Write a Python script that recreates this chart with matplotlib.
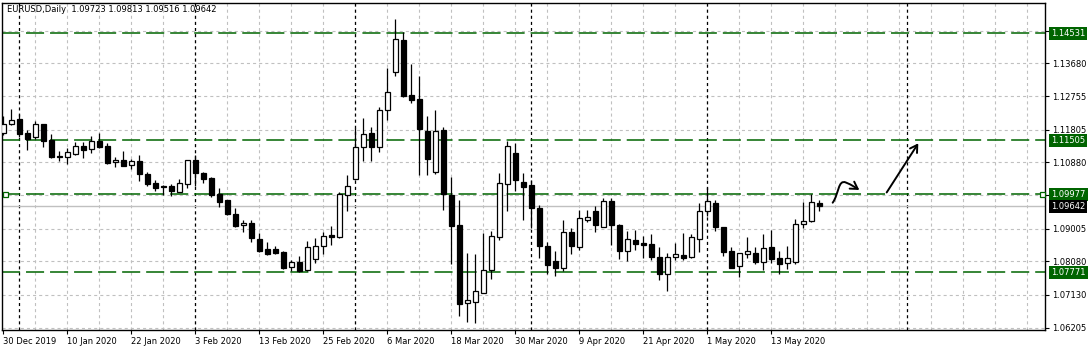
import matplotlib
matplotlib.use('Agg')
import matplotlib.pyplot as plt
from matplotlib.path import Path
from matplotlib.patches import FancyArrowPatch
from matplotlib.transforms import blended_transform_factory

plt.rcParams['lines.scale_dashes'] = False
plt.rcParams['font.family'] = ['DejaVu Sans']

# EURUSD daily candles, 30 Dec 2019 .. 21 May 2020
opens = [1.1170, 1.1196, 1.1211, 1.1172, 1.1161, 1.1196, 1.1150, 1.1106, 1.1103, 1.1113,
         1.1135, 1.1125, 1.1149, 1.1135, 1.1088, 1.1094, 1.1080, 1.1091, 1.1054, 1.1030,
         1.1022, 1.1021, 1.1005, 1.1028, 1.1094, 1.1058, 1.1044, 1.0998, 1.0982, 1.0942,
         1.0910, 1.0917, 1.0872, 1.0843, 1.0843, 1.0835, 1.0791, 1.0805, 1.0783, 1.0814,
         1.0851, 1.0882, 1.0878, 1.0997, 1.1040, 1.1131, 1.1170, 1.1131, 1.1235, 1.1343,
         1.1434, 1.1278, 1.1266, 1.1176, 1.1062, 1.1180, 1.0996, 1.0911, 1.0689, 1.0694,
         1.0719, 1.0785, 1.0878, 1.1026, 1.1115, 1.1033, 1.1024, 1.0959, 1.0852, 1.0809,
         1.0790, 1.0891, 1.0849, 1.0926, 1.0951, 1.0906, 1.0979, 1.0910, 1.0836, 1.0869,
         1.0859, 1.0856, 1.0820, 1.0773, 1.0821, 1.0825, 1.0820, 1.0871, 1.0951, 1.0972,
         1.0904, 1.0836, 1.0794, 1.0830, 1.0832, 1.0805, 1.0848, 1.0818, 1.0803, 1.0807,
         1.0913, 1.0921, 1.09723]
highs = [1.1220, 1.1239, 1.1224, 1.1181, 1.1204, 1.1197, 1.1168, 1.1120, 1.1128, 1.1146,
         1.1146, 1.1163, 1.1172, 1.1144, 1.1103, 1.1121, 1.1097, 1.1109, 1.1061, 1.1038,
         1.1024, 1.1027, 1.1041, 1.1095, 1.1108, 1.1062, 1.1046, 1.1016, 1.0983, 1.0958,
         1.0924, 1.0924, 1.0888, 1.0863, 1.0852, 1.0838, 1.0812, 1.0823, 1.0866, 1.0874,
         1.0891, 1.0907, 1.1005, 1.1052, 1.1185, 1.1214, 1.1188, 1.1244, 1.1354, 1.1493,
         1.1456, 1.1366, 1.1332, 1.1219, 1.1236, 1.1188, 1.1047, 1.0982, 1.0832, 1.0829,
         1.0889, 1.0895, 1.1057, 1.1149, 1.1142, 1.1057, 1.1038, 1.0967, 1.0862, 1.0837,
         1.0925, 1.0902, 1.0953, 1.0953, 1.0964, 1.0987, 1.0986, 1.0914, 1.0895, 1.0897,
         1.0879, 1.0885, 1.0849, 1.0832, 1.0859, 1.0888, 1.0885, 1.0972, 1.1018, 1.0981,
         1.0906, 1.0848, 1.0833, 1.0877, 1.0850, 1.0885, 1.0897, 1.0837, 1.0852, 1.0928,
         1.0976, 1.0998, 1.09813]
lows = [1.1166, 1.1194, 1.1161, 1.1123, 1.1155, 1.1132, 1.1101, 1.1092, 1.1084, 1.1109,
        1.1101, 1.1115, 1.1128, 1.1084, 1.1076, 1.1078, 1.1069, 1.1036, 1.1020, 1.1008,
        1.0997, 1.0992, 1.1004, 1.1016, 1.1021, 1.1030, 1.0991, 1.0963, 1.0940, 1.0906,
        1.0891, 1.0863, 1.0834, 1.0826, 1.0829, 1.0786, 1.0782, 1.0777, 1.0781, 1.0803,
        1.0830, 1.0855, 1.0875, 1.0950, 1.1038, 1.1092, 1.1092, 1.1118, 1.1209, 1.1333,
        1.1274, 1.1256, 1.1052, 1.1053, 1.1055, 1.0953, 1.0801, 1.0653, 1.0637, 1.0635,
        1.0718, 1.0759, 1.0868, 1.0951, 1.1007, 1.0925, 1.0902, 1.0818, 1.0772, 1.0767,
        1.0781, 1.0829, 1.0840, 1.0918, 1.0891, 1.0904, 1.0855, 1.0816, 1.0809, 1.0840,
        1.0817, 1.0811, 1.0755, 1.0725, 1.0811, 1.0812, 1.0818, 1.0834, 1.0937, 1.0895,
        1.0823, 1.0789, 1.0765, 1.0817, 1.0801, 1.0784, 1.0803, 1.0773, 1.0787, 1.0800,
        1.0902, 1.0918, 1.09516]
closes = [1.1196, 1.1207, 1.1169, 1.1155, 1.1196, 1.1149, 1.1103, 1.1103, 1.1117, 1.1134,
          1.1124, 1.1149, 1.1132, 1.1086, 1.1094, 1.1079, 1.1091, 1.1054, 1.1026, 1.1016,
          1.1018, 1.1008, 1.1029, 1.1094, 1.1059, 1.1041, 1.0997, 1.0977, 1.0942, 1.0908,
          1.0917, 1.0873, 1.0838, 1.0829, 1.0832, 1.0790, 1.0805, 1.0782, 1.0849, 1.0852,
          1.0879, 1.0878, 1.0998, 1.1022, 1.1132, 1.1168, 1.1131, 1.1235, 1.1286, 1.1436,
          1.1276, 1.1265, 1.1183, 1.1098, 1.1176, 1.0998, 1.0909, 1.0688, 1.0698, 1.0723,
          1.0785, 1.0879, 1.1029, 1.1135, 1.1039, 1.1019, 1.0960, 1.0852, 1.0798, 1.0790,
          1.0891, 1.0852, 1.0930, 1.0934, 1.0911, 1.0979, 1.0910, 1.0838, 1.0871, 1.0858,
          1.0855, 1.0821, 1.0773, 1.0820, 1.0828, 1.0818, 1.0876, 1.0950, 1.0978, 1.0906,
          1.0834, 1.0790, 1.0831, 1.0837, 1.0805, 1.0846, 1.0815, 1.0801, 1.0818, 1.0913,
          1.0921, 1.0976, 1.09642]

date_ticks = [0, 8, 16, 24, 32, 40, 48, 56, 64, 72, 80, 88, 96]
date_labels = ['30 Dec 2019', '10 Jan 2020', '22 Jan 2020', '3 Feb 2020', '13 Feb 2020',
               '25 Feb 2020', '6 Mar 2020', '18 Mar 2020', '30 Mar 2020', '9 Apr 2020',
               '21 Apr 2020', '1 May 2020', '13 May 2020']
separators = [2, 24, 44, 66, 88, 113]   # month separators (bar index)

price_ticks = [1.06205, 1.07130, 1.08080, 1.09005, 1.09955, 1.10880, 1.11805,
               1.12755, 1.13680, 1.14605]
levels = [1.14531, 1.11505, 1.09977, 1.07771]
bid = closes[-1]

GREEN = '#006400'
GRID = '#c0c0c0'

fig = plt.figure(figsize=(10.91, 3.51), dpi=100)
ax = fig.add_axes([2/1091, 21/351, 1043/1091, 327/351])
xmin, xmax = -0.1875, 130.19
ax.set_xlim(xmin, xmax)
ax.set_ylim(1.06139, 1.15389)

# grid
for g in range(4, 131, 4):
    ax.axvline(g, color=GRID, lw=0.8, ls=(0, (2.2, 2.2)), zorder=0.5)
for p in price_ticks:
    ax.axhline(p, color=GRID, lw=0.8, ls=(0, (2.2, 2.2)), zorder=0.5)
for s in separators:
    ax.axvline(s, color='black', lw=0.9, ls=(0, (2.2, 2.2)), zorder=1)

# bid line + levels
ax.axhline(bid, color=GRID, lw=1.0, zorder=1)
for lv in levels:
    ax.axhline(lv, color=GREEN, lw=1.1, ls=(0, (13, 4.3)), zorder=2)
ax.plot([xmin + 0.4, xmax - 0.4], [levels[2], levels[2]], 's', ms=3.6,
        mfc='white', mec=GREEN, mew=0.9, clip_on=False, zorder=6)

# candles
x = list(range(len(opens)))
bottoms = [min(o, c) for o, c in zip(opens, closes)]
heights = [max(abs(c - o), 0.00002) for o, c in zip(opens, closes)]
colors = ['white' if c >= o else 'black' for o, c in zip(opens, closes)]
ax.vlines(x, lows, highs, color='black', lw=0.9, zorder=3)
ax.bar(x, heights, bottom=bottoms, width=0.55, color=colors,
       edgecolor='black', linewidth=0.9, zorder=4)

# hand drawn arrows
verts = [(103.65, 1.0974), (104.44, 1.0999), (104.31, 1.1041), (105.31, 1.1031),
         (106.06, 1.1024), (106.44, 1.1018), (106.98, 1.1010)]
codes = [Path.MOVETO] + [Path.CURVE4] * 6
curve = FancyArrowPatch(path=Path(verts, codes), arrowstyle='->,head_length=0.5,head_width=0.3',
                        mutation_scale=10, lw=1.4, color='black', zorder=7)
ax.add_patch(curve)
ax.annotate('', xy=(114.35, 1.1142), xytext=(110.4, 1.1003),
            arrowprops=dict(arrowstyle='->,head_length=0.5,head_width=0.3', lw=1.4,
                            color='black', shrinkA=0, shrinkB=0, mutation_scale=10))

# axes
for sp in ax.spines.values():
    sp.set_color('black')
    sp.set_linewidth(1.0)
ax.yaxis.tick_right()
ax.set_yticks(price_ticks)
ax.set_yticklabels(['' if p in (1.09955, 1.14605) else '%.5f' % p for p in price_ticks])
ax.set_xticks(date_ticks)
ax.set_xticklabels(date_labels)
for lbl in ax.get_xticklabels():
    lbl.set_horizontalalignment('left')
ax.tick_params(axis='both', labelsize=6, length=3, width=0.8, pad=2, colors='black')

trans = blended_transform_factory(ax.transAxes, ax.transData)
for lv in levels:
    ax.text(1.0058, lv, '%.5f' % lv, transform=trans, va='center', ha='left', fontsize=6,
            color='white', bbox=dict(boxstyle='square,pad=0.25', fc=GREEN, ec='none'),
            clip_on=False, zorder=10)
ax.text(1.0058, bid, '%.5f' % bid, transform=trans, va='center', ha='left', fontsize=6,
        color='white', bbox=dict(boxstyle='square,pad=0.25', fc='black', ec='none'),
        clip_on=False, zorder=10)

header = 'EURUSD,Daily  %.5f %.5f %.5f %.5f' % (opens[-1], highs[-1], lows[-1], closes[-1])
fig.text(7/1091, 1 - 10/351, header, fontsize=6, va='center', ha='left')

fig.savefig('out.png', dpi=100)
